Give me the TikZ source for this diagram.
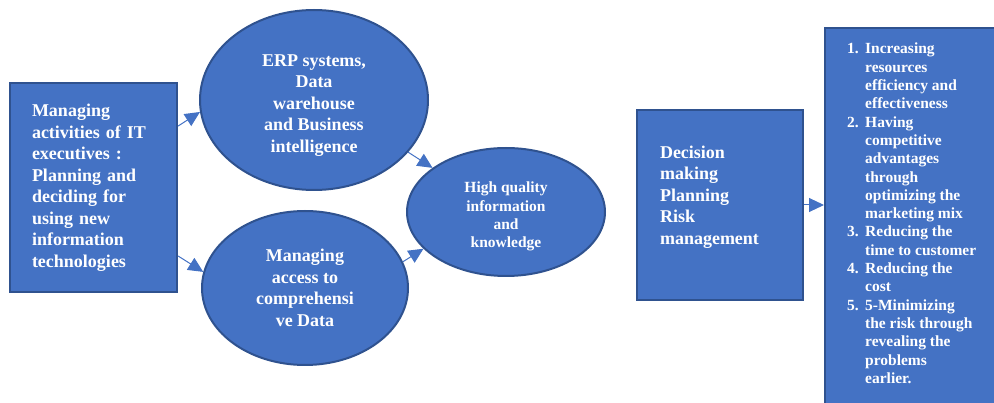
\documentclass[tikz,border=0pt]{standalone}
\usepackage{fontspec}
\setmainfont{Liberation Serif}
\usetikzlibrary{shapes.geometric,arrows.meta}
\definecolor{boxfill}{HTML}{4472C4}
\definecolor{boxedge}{HTML}{2F528F}
% numbered entries with a hanging indent
\newcommand\itemno[1]{\makebox[18pt][l]{#1}}
\newcommand\contline{\hspace*{18pt}}
% taller first line, to lower a text block inside its shape
\newcommand\lowerby[1]{\rule{0pt}{#1}}

\begin{document}
\begin{tikzpicture}[x=1pt,y=-1pt,
  shapebase/.style={fill=boxfill, draw=boxedge, line width=2pt, text=white,
    font=\bfseries\fontsize{18}{21.5}\selectfont, inner sep=0pt},
  panel/.style={shapebase, rectangle},
  bubble/.style={shapebase, ellipse, align=center},
  paneltext/.style={text=white, inner sep=0pt, align=left,
    font=\bfseries\fontsize{18}{21.5}\selectfont},
  smalltext/.style={font=\bfseries\fontsize{15.5}{18.3}\selectfont},
  link/.style={draw=boxfill, line width=1pt, -{Triangle[length=15pt,width=14pt]}},
]
\useasboundingbox (0,0) rectangle (994,403);

% left column: the IT executives' activities
\node[panel, minimum width=167pt, minimum height=209pt, text width=123pt, align=left]
  (itexec) at (93.5,187.5)
  {Managing\\activities of IT\\executives :\\Planning and\\deciding for\\using new\\information\\technologies};

% middle: tools and data access
\node[bubble, minimum width=228pt, minimum height=180pt] (erp) at (314,100)
  {\lowerby{22pt}ERP systems,\\Data\\warehouse\\and Business\\intelligence};
\node[bubble, minimum width=206pt, minimum height=154pt] (access) at (305,288)
  {Managing\\access to\\comprehensi\\ve Data};

% result of both
\node[bubble, smalltext, minimum width=198pt, minimum height=128pt] (quality) at (506,212)
  {\lowerby{20pt}High quality\\information\\and\\knowledge};

% decisions
\node[panel, minimum width=166pt, minimum height=190pt] (decision) at (720,205) {};
\node[paneltext, text width=120pt] (decisiontext) at (720,197)
  {Decision\\making\\Planning\\Risk\\management};

% outcomes, running off the lower and right edges
\node[panel, minimum width=180pt, minimum height=390pt, anchor=north west] (benefits) at (824,27) {};
\node[paneltext, smalltext, anchor=north west] (benefitlist) at (847,43)
  {\itemno{1.}Increasing\\\contline resources\\\contline efficiency and\\\contline effectiveness\\
   \itemno{2.}Having\\\contline competitive\\\contline advantages\\\contline through\\\contline optimizing the\\\contline marketing mix\\
   \itemno{3.}Reducing the\\\contline time to customer\\
   \itemno{4.}Reducing the\\\contline cost\\
   \itemno{5.}5-Minimizing\\\contline the risk through\\\contline revealing the\\\contline problems\\\contline earlier.};

% connectors
\draw[link] (itexec.36) -- (erp.186);
\draw[link] (itexec.321) -- (access.171);
\draw[link] (erp.331) -- (quality.149);
\draw[link] (access.15) -- (quality.204);
\draw[link] (decision.east) -- (decision.east -| benefits.west);
\end{tikzpicture}
\end{document}
